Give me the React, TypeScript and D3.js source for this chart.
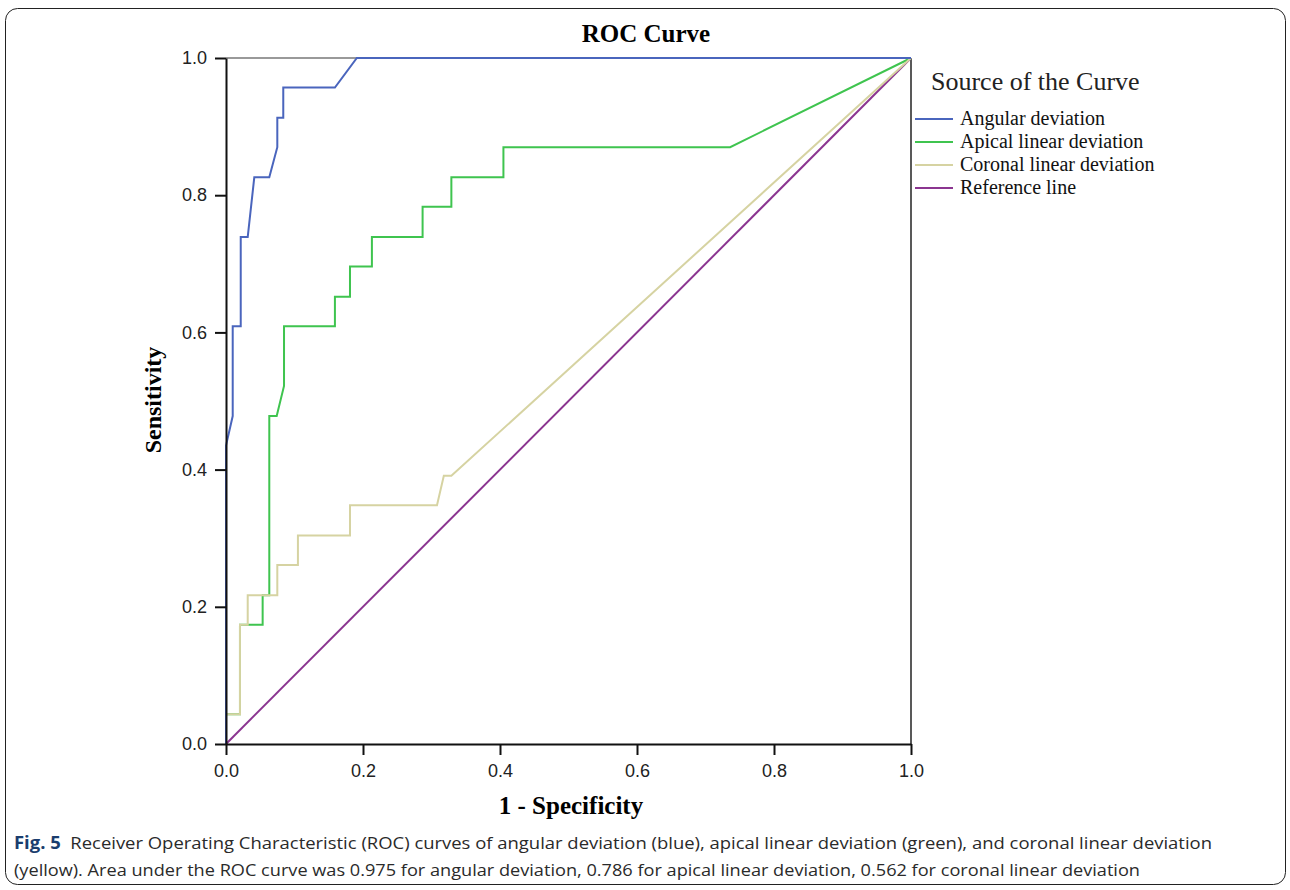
import { useEffect, useRef } from "react";
import * as d3 from "d3";

// ROC points (1 - specificity, sensitivity)
const angularFpr = [0, 0, 0.0098, 0.0098, 0.0215, 0.0215, 0.0317, 0.0413, 0.0632, 0.0749, 0.0749, 0.0836, 0.0836, 0.159, 0.191, 1];
const angularTpr = [0, 0.435, 0.478, 0.609, 0.609, 0.739, 0.739, 0.826, 0.826, 0.87, 0.913, 0.913, 0.957, 0.957, 1, 1];

const apicalFpr = [0, 0, 0.0204, 0.0204, 0.0535, 0.0535, 0.0632, 0.0632, 0.074, 0.0847, 0.0847, 0.159, 0.159, 0.181, 0.181, 0.213, 0.213, 0.287, 0.287, 0.329, 0.329, 0.405, 0.405, 0.736, 1];
const apicalTpr = [0, 0.0435, 0.0435, 0.174, 0.174, 0.217, 0.217, 0.478, 0.478, 0.522, 0.609, 0.609, 0.652, 0.652, 0.696, 0.696, 0.739, 0.739, 0.783, 0.783, 0.826, 0.826, 0.87, 0.87, 1];

const coronalFpr = [0, 0, 0.0204, 0.0204, 0.0317, 0.0317, 0.0749, 0.0749, 0.105, 0.105, 0.181, 0.181, 0.308, 0.318, 0.329, 1];
const coronalTpr = [0, 0.0435, 0.0435, 0.174, 0.174, 0.217, 0.217, 0.261, 0.261, 0.304, 0.304, 0.348, 0.348, 0.391, 0.391, 1];

const refFpr = [0, 1];
const refTpr = [0, 1];

const seriesNames = ["Angular deviation", "Apical linear deviation", "Coronal linear deviation", "Reference line"];
const seriesColors = ["#4a65bd", "#3fc44f", "#d6d3a2", "#8b3590"];
const ticks = [0, 0.2, 0.4, 0.6, 0.8, 1.0];

const captionLine1 = "Receiver Operating Characteristic (ROC) curves of angular deviation (blue), apical linear deviation (green), and coronal linear deviation";
const captionLine2 = "(yellow). Area under the ROC curve was 0.975 for angular deviation, 0.786 for apical linear deviation, 0.562 for coronal linear deviation";

const App = () => {
  const svgRef = useRef<SVGSVGElement>(null);

  useEffect(() => {
    const svg = d3.select(svgRef.current);
    svg.selectAll("*").remove();

    const margin = { left: 226, top: 58 };
    const width = 685;
    const height = 686;

    const x = d3.scaleLinear().domain([0, 1]).range([0, width]);
    const y = d3.scaleLinear().domain([0, 1]).range([height, 0]);

    // outer figure box
    svg
      .append("rect")
      .attr("x", 5.5)
      .attr("y", 8.5)
      .attr("width", 1280)
      .attr("height", 876)
      .attr("rx", 12)
      .attr("fill", "#fff")
      .attr("stroke", "#222")
      .attr("stroke-width", 1);

    svg
      .append("text")
      .attr("x", 646)
      .attr("y", 42)
      .attr("text-anchor", "middle")
      .style("font-family", "'Liberation Serif', serif")
      .style("font-weight", "bold")
      .style("font-size", "25px")
      .text("ROC Curve");

    const g = svg.append("g").attr("transform", `translate(${margin.left},${margin.top})`);

    // frame: grey top, dark right
    g.append("line").attr("x1", 0).attr("x2", width).attr("y1", 0).attr("y2", 0).attr("stroke", "#999").attr("stroke-width", 2);
    g.append("line").attr("x1", width).attr("x2", width).attr("y1", 0).attr("y2", height).attr("stroke", "#222").attr("stroke-width", 1.5);

    const line = d3
      .line<[number, number]>()
      .x((d) => x(d[0]))
      .y((d) => y(d[1]));

    // drawing order: reference, apical, coronal, angular
    const series: [number[], number[], number][] = [
      [refFpr, refTpr, 3],
      [apicalFpr, apicalTpr, 1],
      [coronalFpr, coronalTpr, 2],
      [angularFpr, angularTpr, 0],
    ];
    series.forEach(([fx, fy, ci]) => {
      g.append("path")
        .datum(d3.zip(fx, fy) as [number, number][])
        .attr("fill", "none")
        .attr("stroke", seriesColors[ci])
        .attr("stroke-width", 2)
        .attr("stroke-linejoin", "miter")
        .attr("d", line);
    });

    const xAxis = g
      .append("g")
      .attr("transform", `translate(0,${height})`)
      .call(d3.axisBottom(x).tickValues(ticks).tickFormat(d3.format(".1f")).tickSize(11).tickSizeOuter(0));
    const yAxis = g
      .append("g")
      .call(d3.axisLeft(y).tickValues(ticks).tickFormat(d3.format(".1f")).tickSize(11).tickSizeOuter(0));

    [xAxis, yAxis].forEach((ax) => {
      ax.select(".domain").attr("stroke", "#111").attr("stroke-width", 2);
      ax.selectAll(".tick line").attr("stroke", "#111").attr("stroke-width", 2);
      ax.selectAll(".tick text")
        .style("font-family", "'Liberation Sans', Arial, sans-serif")
        .style("font-size", "18px")
        .attr("fill", "#222");
    });
    yAxis.selectAll(".tick text").attr("x", -19);
    xAxis.selectAll(".tick text").attr("y", 20);

    svg
      .append("text")
      .attr("transform", "translate(161,400) rotate(-90)")
      .attr("text-anchor", "middle")
      .style("font-family", "'Liberation Serif', serif")
      .style("font-weight", "bold")
      .style("font-size", "24px")
      .text("Sensitivity");

    svg
      .append("text")
      .attr("x", 571)
      .attr("y", 814)
      .attr("text-anchor", "middle")
      .style("font-family", "'Liberation Serif', serif")
      .style("font-weight", "bold")
      .style("font-size", "25px")
      .text("1 - Specificity");

    // legend
    const legend = svg.append("g").attr("transform", "translate(914,0)");
    legend
      .append("text")
      .attr("x", 17)
      .attr("y", 90)
      .style("font-family", "'Liberation Serif', serif")
      .style("font-size", "26px")
      .attr("fill", "#222")
      .text("Source of the Curve");
    seriesNames.forEach((name, i) => {
      const yy = 119 + i * 23;
      legend
        .append("line")
        .attr("x1", 1)
        .attr("x2", 39)
        .attr("y1", yy)
        .attr("y2", yy)
        .attr("stroke", seriesColors[i])
        .attr("stroke-width", 2);
      legend
        .append("text")
        .attr("x", 46)
        .attr("y", yy + 6)
        .style("font-family", "'Liberation Serif', serif")
        .style("font-size", "20px")
        .attr("fill", "#111")
        .text(name);
    });

    // caption
    const cap = svg.append("g").style("font-family", "'Open Sans', 'Noto Sans', sans-serif").style("font-size", "17px").attr("fill", "#2a2a2a");
    const l1 = cap.append("text").attr("x", 14).attr("y", 849).attr("textLength", 1198).attr("lengthAdjust", "spacingAndGlyphs");
    l1.append("tspan").style("font-weight", "bold").attr("fill", "#1a3d6e").text("Fig. 5");
    l1.append("tspan").text("\u00a0\u00a0" + captionLine1);
    cap
      .append("text")
      .attr("x", 14)
      .attr("y", 876)
      .attr("textLength", 1126)
      .attr("lengthAdjust", "spacingAndGlyphs")
      .text(captionLine2);
  }, []);

  return (
    <svg
      ref={svgRef}
      width={1290}
      height={890}
      style={{ position: "absolute", left: 0, top: 0, background: "#fff" }}
    ></svg>
  );
};

export default App;
